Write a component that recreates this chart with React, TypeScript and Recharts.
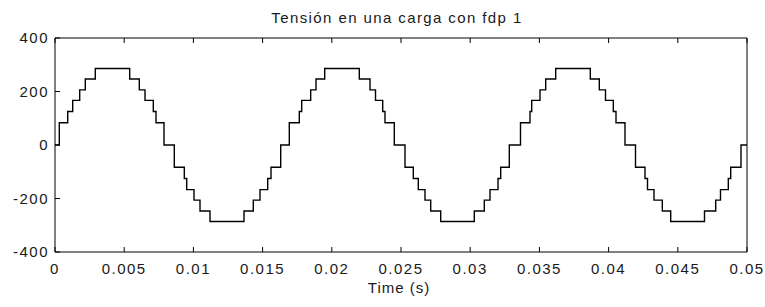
import { LineChart, Line, XAxis, YAxis } from 'recharts';

// switching instants (s), one per step change
const TIMES = [
    0, 0.000311, 0.000918, 0.001279, 0.001785, 0.002189, 0.002912, 0.005397, 0.006091, 0.006503, 0.007103, 0.007298,
    0.007876, 0.00862, 0.009343, 0.009516, 0.010043, 0.010477, 0.011199, 0.013656, 0.014328, 0.014812, 0.015369, 0.015607,
    0.016308, 0.016929, 0.017652, 0.017825, 0.018475, 0.018858, 0.019487, 0.021987, 0.02276, 0.023158, 0.023678, 0.023844,
    0.024516, 0.025289, 0.025889, 0.02625, 0.026734, 0.027146, 0.027868, 0.030296, 0.031019, 0.031431, 0.032009, 0.032204,
    0.032825, 0.033634, 0.034321, 0.034444, 0.035043, 0.035455, 0.036178, 0.038678, 0.039328, 0.039776, 0.04034, 0.040535,
    0.041185, 0.041944, 0.04263, 0.042811, 0.04328, 0.04388, 0.044487, 0.046929, 0.047738, 0.048085, 0.048649, 0.048822,
    0.049566, 0.05,
];

// voltage level held from each instant
const VOLTS = [
    0, 83, 125, 167, 206, 247, 286, 247, 206, 167, 125, 83,
    0, -83, -125, -167, -206, -247, -286, -247, -206, -167, -125, -83,
    0, 83, 125, 167, 206, 247, 286, 247, 206, 167, 125, 83,
    0, -83, -125, -167, -206, -247, -286, -247, -206, -167, -125, -83,
    0, 83, 125, 167, 206, 247, 286, 247, 206, 167, 125, 83,
    0, -83, -125, -167, -206, -247, -286, -247, -206, -167, -125, -83,
    0, 0,
];

const X_TICKS = [0, 0.005, 0.01, 0.015, 0.02, 0.025, 0.03, 0.035, 0.04, 0.045, 0.05];
const Y_TICKS = [-400, -200, 0, 200, 400];

const data = TIMES.map((t, i) => ({ t, v: VOLTS[i] }));

const FONT = '"Liberation Sans", Arial, Helvetica, sans-serif';
const tickStyle = { fill: '#1a1a1a', fontSize: 15, fontFamily: FONT, letterSpacing: 1.5 };
const blank = () => '';

export default function App() {
    return (
        <div style={{ position: 'absolute', left: 0, top: 0, width: 765, height: 307, background: '#fff', fontFamily: FONT, color: '#1a1a1a' }}>
            <div style={{ position: 'absolute', left: 51, width: 692, top: 9, textAlign: 'center', fontSize: 15, letterSpacing: 1.4, lineHeight: 'normal' }}>
                Tensión en una carga con fdp 1
            </div>
            <LineChart width={765} height={307} data={data} margin={{ top: 28, right: 8, bottom: 25, left: 25 }}>
                <XAxis xAxisId="b" type="number" dataKey="t" domain={[0, 0.05]} ticks={X_TICKS} height={30}
                    stroke="#000" tickSize={-5} tickMargin={16} tick={tickStyle} interval={0} />
                <XAxis xAxisId="top" orientation="top" type="number" dataKey="t" domain={[0, 0.05]} ticks={X_TICKS} height={10}
                    stroke="#000" tickSize={-5} tickFormatter={blank} interval={0} />
                <YAxis yAxisId="l" type="number" domain={[-400, 400]} ticks={Y_TICKS} width={30}
                    stroke="#000" tickSize={-5} tickMargin={11} tick={tickStyle} interval={0} />
                <YAxis yAxisId="r" orientation="right" type="number" domain={[-400, 400]} ticks={Y_TICKS} width={10}
                    stroke="#000" tickSize={-5} tickFormatter={blank} interval={0} />
                <Line xAxisId="b" yAxisId="l" type="stepAfter" dataKey="v" stroke="#000" strokeWidth={1.4}
                    dot={false} isAnimationActive={false} />
            </LineChart>
            <div style={{ position: 'absolute', left: 53, width: 692, top: 279, textAlign: 'center', fontSize: 15, letterSpacing: 1, lineHeight: 'normal' }}>
                Time (s)
            </div>
        </div>
    );
}
